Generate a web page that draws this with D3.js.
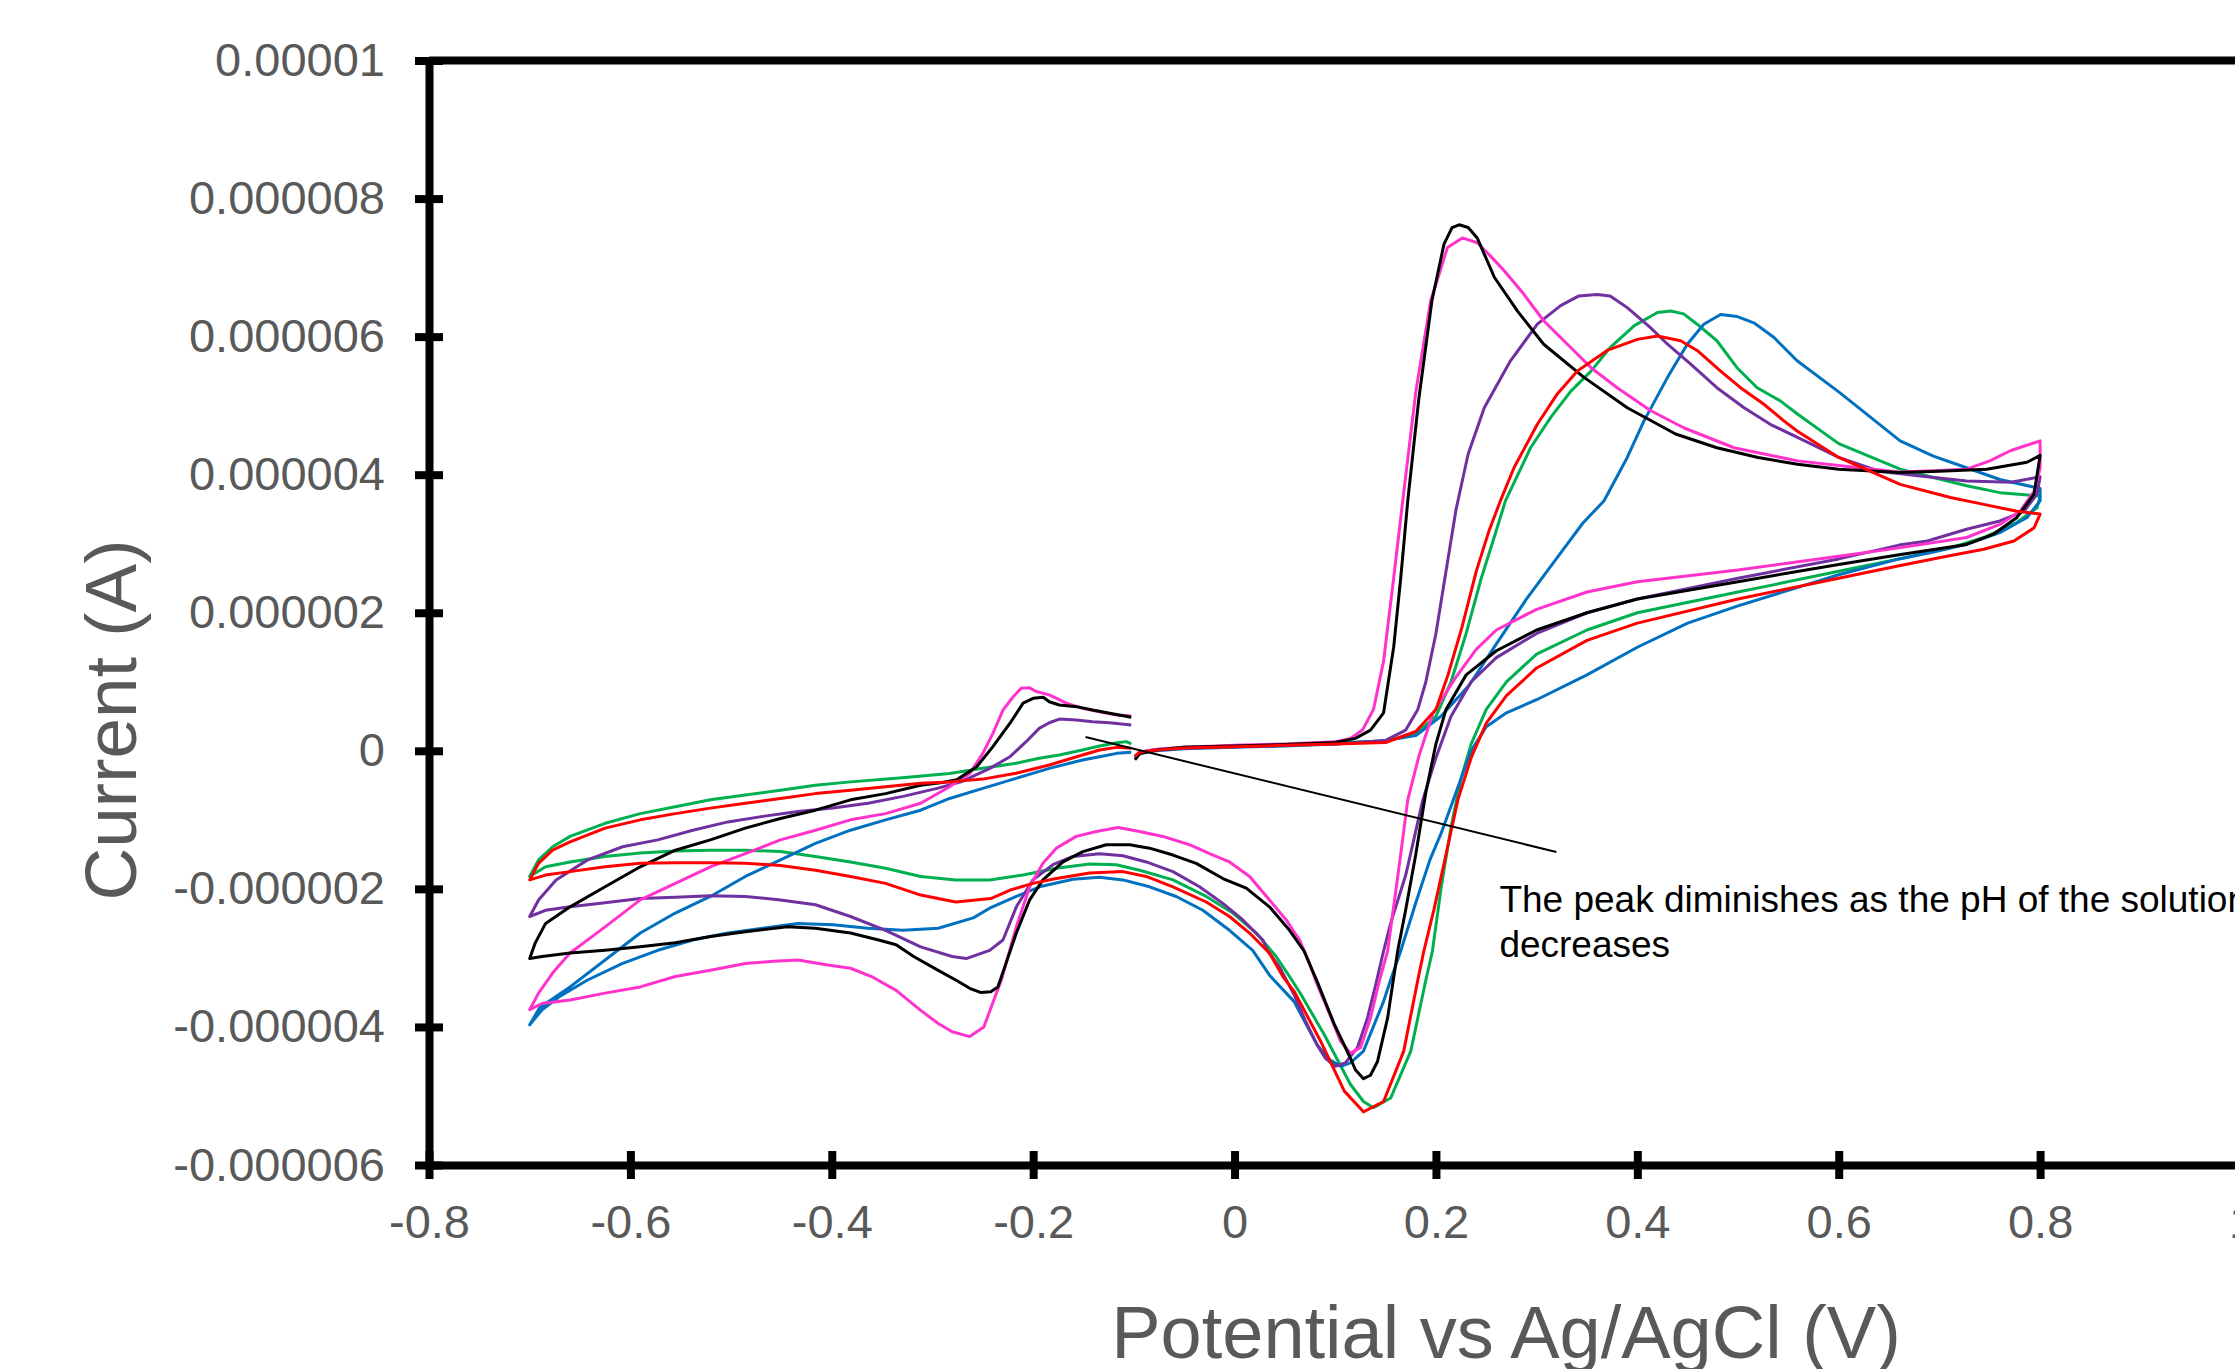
<!DOCTYPE html>
<html>
<head>
<meta charset="utf-8">
<script src="https://cdn.jsdelivr.net/npm/d3@7"></script>
<style>
  html, body { margin: 0; padding: 0; background: #ffffff; }
  svg { display: block; font-family: "Liberation Sans", Arial, Helvetica, sans-serif; }
</style>
</head>
<body>
<svg id="chart" width="2235" height="1369"></svg>
<script>
// Cyclic voltammograms: potential (V vs Ag/AgCl) against current (µA in the arrays, plotted in A).
// Each scan starts near -0.1 V, sweeps up to 0.8 V, back down to -0.7 V and up again to -0.1 V.

const xTicks = [-0.8, -0.6, -0.4, -0.2, 0, 0.2, 0.4, 0.6, 0.8, 1.0];
const xTickLabels = ["-0.8", "-0.6", "-0.4", "-0.2", "0", "0.2", "0.4", "0.6", "0.8", "1"];
const yTicksMicro = [-6, -4, -2, 0, 2, 4, 6, 8, 10];
const yTickLabels = ["-0.000006", "-0.000004", "-0.000002", "0", "0.000002", "0.000004", "0.000006", "0.000008", "0.00001"];

const scanBlack = [
 [-0.099,-0.13],[-0.094,-0.04],[-0.078,0.01],[-0.05,0.05],[0.0,0.07],[0.05,0.09],[0.1,0.12],[0.12,0.18],[0.135,0.3],[0.148,0.55],[0.158,1.5],[0.165,2.5],[0.172,3.62],[0.183,5.1],[0.196,6.52],[0.208,7.34],[0.216,7.58],[0.223,7.62],[0.232,7.58],[0.241,7.43],[0.258,6.86],[0.281,6.37],[0.307,5.89],[0.347,5.41],[0.39,4.97],[0.438,4.59],[0.479,4.39],[0.52,4.25],[0.559,4.15],[0.6,4.08],[0.661,4.03],[0.7,4.05],[0.747,4.08],[0.787,4.18],[0.8,4.28],
 [0.794,3.72],[0.777,3.38],[0.754,3.14],[0.727,2.99],[0.66,2.84],[0.6,2.7],[0.5,2.45],[0.4,2.2],[0.35,2.0],[0.3,1.75],[0.26,1.45],[0.23,1.1],[0.21,0.6],[0.2,0.1],[0.19,-0.6],[0.18,-1.5],[0.17,-2.3],[0.162,-2.9],[0.152,-3.87],[0.142,-4.5],[0.135,-4.7],[0.128,-4.75],[0.12,-4.62],[0.115,-4.45],[0.099,-3.96],[0.082,-3.34],[0.069,-2.9],[0.0546,-2.6],[0.0347,-2.26],[0.0116,-1.99],[-0.0116,-1.85],[-0.0381,-1.63],[-0.0612,-1.51],[-0.0844,-1.41],[-0.1042,-1.36],[-0.1274,-1.36],[-0.1506,-1.46],[-0.1704,-1.61],[-0.1903,-1.87],[-0.2035,-2.16],[-0.2167,-2.64],[-0.2282,-3.13],[-0.2351,-3.42],[-0.2421,-3.49],[-0.2525,-3.5],[-0.263,-3.44],[-0.2769,-3.32],[-0.2943,-3.18],[-0.3187,-2.98],[-0.3361,-2.81],[-0.3535,-2.74],[-0.3814,-2.64],[-0.4162,-2.57],[-0.444,-2.55],[-0.4858,-2.62],[-0.5206,-2.69],[-0.5554,-2.78],[-0.5902,-2.84],[-0.6251,-2.89],[-0.6599,-2.93],[-0.6877,-2.98],[-0.7,-3.01],
 [-0.6947,-2.79],[-0.6842,-2.5],[-0.6599,-2.26],[-0.6251,-1.97],[-0.5902,-1.68],[-0.5554,-1.44],[-0.5206,-1.29],[-0.4858,-1.12],[-0.451,-0.98],[-0.4162,-0.86],[-0.3814,-0.71],[-0.3466,-0.62],[-0.3117,-0.5],[-0.29,-0.46],[-0.276,-0.42],[-0.256,-0.23],[-0.24,0.06],[-0.223,0.4],[-0.21,0.69],[-0.2,0.76],[-0.19,0.775],[-0.184,0.71],[-0.174,0.664],[-0.157,0.64],[-0.141,0.59],[-0.124,0.543],[-0.1026,0.485]
];

const scanMagenta = [
 [-0.099,-0.08],[-0.094,-0.02],[-0.078,0.02],[-0.05,0.05],[0.0,0.08],[0.05,0.1],[0.1,0.13],[0.115,0.18],[0.127,0.3],[0.138,0.6],[0.148,1.3],[0.158,2.5],[0.167,3.62],[0.18,5.2],[0.1948,6.52],[0.2114,7.29],[0.2262,7.43],[0.241,7.36],[0.254,7.17],[0.268,6.95],[0.287,6.62],[0.307,6.23],[0.327,5.94],[0.354,5.55],[0.38,5.26],[0.413,4.93],[0.446,4.68],[0.496,4.39],[0.559,4.2],[0.62,4.1],[0.66,4.04],[0.7,4.06],[0.727,4.08],[0.75,4.2],[0.771,4.35],[0.8,4.49],
 [0.8,4.1],[0.794,3.76],[0.78,3.47],[0.76,3.28],[0.727,3.09],[0.66,2.94],[0.6,2.82],[0.5,2.62],[0.4,2.45],[0.35,2.3],[0.3,2.05],[0.26,1.75],[0.24,1.47],[0.219,1.05],[0.197,0.54],[0.183,-0.08],[0.172,-0.71],[0.165,-1.5],[0.159,-2.15],[0.152,-2.9],[0.144,-3.32],[0.135,-3.87],[0.125,-4.3],[0.115,-4.38],[0.105,-4.2],[0.096,-3.87],[0.082,-3.38],[0.0744,-3.08],[0.0645,-2.74],[0.0513,-2.45],[0.0347,-2.16],[0.015,-1.82],[-0.005,-1.61],[-0.0248,-1.49],[-0.0447,-1.36],[-0.0712,-1.24],[-0.0943,-1.17],[-0.1158,-1.11],[-0.1373,-1.17],[-0.1572,-1.24],[-0.177,-1.41],[-0.1903,-1.63],[-0.2035,-1.97],[-0.2167,-2.55],[-0.2316,-3.32],[-0.249,-4.0],[-0.263,-4.14],[-0.2804,-4.07],[-0.2943,-3.95],[-0.3117,-3.76],[-0.3361,-3.47],[-0.3605,-3.27],[-0.3814,-3.15],[-0.4057,-3.1],[-0.4336,-3.03],[-0.458,-3.05],[-0.4858,-3.08],[-0.5206,-3.18],[-0.5554,-3.27],[-0.5902,-3.42],[-0.6251,-3.51],[-0.6599,-3.61],[-0.6877,-3.66],[-0.7,-3.75],
 [-0.6912,-3.51],[-0.6773,-3.22],[-0.6599,-2.93],[-0.6251,-2.55],[-0.5902,-2.16],[-0.5554,-1.92],[-0.5206,-1.68],[-0.4858,-1.49],[-0.451,-1.29],[-0.4162,-1.15],[-0.3814,-1.0],[-0.3466,-0.91],[-0.3117,-0.76],[-0.283,-0.52],[-0.263,-0.33],[-0.25,-0.037],[-0.24,0.253],[-0.23,0.59],[-0.22,0.78],[-0.212,0.905],[-0.204,0.915],[-0.197,0.86],[-0.184,0.81],[-0.167,0.69],[-0.151,0.615],[-0.134,0.567],[-0.117,0.52],[-0.1026,0.504]
];

const scanPurple = [
 [-0.099,-0.08],[-0.094,-0.02],[-0.078,0.02],[-0.05,0.04],[0.0,0.06],[0.05,0.08],[0.1,0.1],[0.15,0.15],[0.17,0.3],[0.182,0.6],[0.19,1.0],[0.2,1.7],[0.21,2.6],[0.22,3.5],[0.232,4.3],[0.248,4.97],[0.274,5.65],[0.3007,6.18],[0.3238,6.45],[0.342,6.59],[0.36,6.61],[0.373,6.59],[0.39,6.42],[0.413,6.13],[0.43,5.89],[0.453,5.6],[0.479,5.26],[0.506,4.97],[0.532,4.73],[0.559,4.54],[0.6,4.25],[0.64,4.05],[0.681,3.98],[0.727,3.91],[0.771,3.89],[0.8,3.97],
 [0.797,3.72],[0.784,3.47],[0.76,3.33],[0.727,3.21],[0.688,3.04],[0.66,2.98],[0.6,2.78],[0.5,2.5],[0.4,2.2],[0.35,2.0],[0.3,1.7],[0.26,1.35],[0.235,1.0],[0.215,0.5],[0.2,-0.1],[0.187,-0.71],[0.17,-1.8],[0.155,-2.5],[0.148,-2.9],[0.14,-3.4],[0.132,-3.87],[0.122,-4.3],[0.11,-4.52],[0.1,-4.57],[0.09,-4.45],[0.082,-4.26],[0.07,-3.9],[0.059,-3.53],[0.0446,-3.13],[0.033,-2.9],[0.0281,-2.74],[0.0083,-2.45],[-0.0116,-2.21],[-0.0348,-1.97],[-0.0612,-1.75],[-0.0877,-1.61],[-0.1109,-1.52],[-0.134,-1.49],[-0.1605,-1.53],[-0.1804,-1.65],[-0.2002,-1.87],[-0.2167,-2.26],[-0.23,-2.74],[-0.2432,-2.89],[-0.2665,-3.01],[-0.2804,-2.98],[-0.3117,-2.84],[-0.3466,-2.6],[-0.3814,-2.4],[-0.4162,-2.23],[-0.451,-2.16],[-0.4858,-2.11],[-0.5206,-2.1],[-0.5554,-2.12],[-0.5902,-2.14],[-0.6251,-2.2],[-0.6599,-2.26],[-0.6842,-2.31],[-0.7,-2.4],
 [-0.6912,-2.16],[-0.6738,-1.87],[-0.6425,-1.58],[-0.6077,-1.39],[-0.5728,-1.29],[-0.538,-1.15],[-0.5032,-1.03],[-0.4684,-0.95],[-0.4336,-0.88],[-0.3988,-0.83],[-0.364,-0.76],[-0.3292,-0.66],[-0.2943,-0.54],[-0.27,-0.44],[-0.243,-0.254],[-0.223,-0.085],[-0.207,0.132],[-0.194,0.325],[-0.184,0.407],[-0.174,0.46],[-0.157,0.446],[-0.141,0.422],[-0.124,0.407],[-0.1026,0.374]
];

const scanGreen = [
 [-0.099,-0.08],[-0.094,-0.02],[-0.078,0.02],[-0.05,0.05],[0.0,0.07],[0.05,0.09],[0.1,0.12],[0.15,0.14],[0.18,0.25],[0.2,0.5],[0.215,1.0],[0.23,1.7],[0.245,2.5],[0.258,3.1],[0.269,3.62],[0.294,4.39],[0.314,4.83],[0.334,5.21],[0.354,5.5],[0.373,5.84],[0.397,6.16],[0.42,6.35],[0.433,6.37],[0.446,6.33],[0.4594,6.18],[0.479,5.94],[0.499,5.55],[0.519,5.26],[0.542,5.07],[0.559,4.88],[0.6,4.45],[0.661,4.08],[0.694,3.96],[0.727,3.84],[0.76,3.74],[0.8,3.69],
 [0.797,3.52],[0.777,3.31],[0.744,3.09],[0.711,2.94],[0.66,2.78],[0.6,2.6],[0.5,2.3],[0.4,2.0],[0.35,1.75],[0.3,1.4],[0.27,1.0],[0.25,0.6],[0.235,0.1],[0.225,-0.4],[0.215,-1.1],[0.205,-2.0],[0.1965,-2.9],[0.19,-3.32],[0.175,-4.35],[0.155,-5.03],[0.138,-5.17],[0.128,-5.08],[0.115,-4.83],[0.089,-4.11],[0.066,-3.53],[0.0546,-3.27],[0.0413,-2.98],[0.0215,-2.64],[-0.0017,-2.35],[-0.0281,-2.11],[-0.0612,-1.87],[-0.0943,-1.73],[-0.1175,-1.65],[-0.1439,-1.64],[-0.177,-1.7],[-0.2101,-1.8],[-0.2432,-1.87],[-0.2769,-1.87],[-0.3117,-1.82],[-0.3466,-1.7],[-0.3814,-1.61],[-0.4162,-1.53],[-0.451,-1.46],[-0.4858,-1.44],[-0.5206,-1.44],[-0.5554,-1.45],[-0.5902,-1.48],[-0.6251,-1.53],[-0.6599,-1.61],[-0.6842,-1.68],[-0.7,-1.82],
 [-0.6912,-1.58],[-0.6773,-1.39],[-0.6599,-1.24],[-0.6251,-1.05],[-0.5902,-0.91],[-0.5554,-0.81],[-0.5206,-0.71],[-0.4858,-0.64],[-0.451,-0.57],[-0.4162,-0.5],[-0.3814,-0.45],[-0.33,-0.39],[-0.283,-0.33],[-0.25,-0.254],[-0.217,-0.18],[-0.194,-0.109],[-0.174,-0.06],[-0.151,0.012],[-0.134,0.07],[-0.117,0.118],[-0.1075,0.133],[-0.1026,0.1]
];

const scanRed = [
 [-0.099,-0.08],[-0.094,-0.02],[-0.078,0.01],[-0.05,0.04],[0.0,0.06],[0.05,0.08],[0.1,0.1],[0.15,0.12],[0.18,0.28],[0.2,0.6],[0.212,1.1],[0.226,1.8],[0.24,2.6],[0.253,3.2],[0.264,3.62],[0.2775,4.1],[0.3007,4.73],[0.3205,5.17],[0.3403,5.5],[0.37,5.8],[0.4,5.96],[0.42,6.01],[0.443,5.94],[0.4594,5.8],[0.4827,5.5],[0.5025,5.26],[0.5257,5.02],[0.5455,4.78],[0.559,4.63],[0.6,4.25],[0.661,3.86],[0.711,3.67],[0.744,3.57],[0.777,3.47],[0.8,3.43],
 [0.794,3.23],[0.774,3.04],[0.744,2.92],[0.701,2.8],[0.66,2.68],[0.6,2.5],[0.5,2.2],[0.4,1.85],[0.35,1.6],[0.3,1.2],[0.27,0.8],[0.25,0.4],[0.235,-0.1],[0.222,-0.7],[0.21,-1.5],[0.198,-2.3],[0.188,-2.9],[0.182,-3.32],[0.168,-4.35],[0.148,-5.08],[0.128,-5.23],[0.109,-4.93],[0.0856,-4.21],[0.059,-3.48],[0.048,-3.27],[0.0347,-2.93],[0.0149,-2.64],[-0.005,-2.4],[-0.0281,-2.19],[-0.0612,-1.97],[-0.0877,-1.82],[-0.1109,-1.75],[-0.1439,-1.77],[-0.177,-1.85],[-0.2002,-1.92],[-0.2234,-2.02],[-0.2421,-2.14],[-0.2769,-2.19],[-0.3117,-2.09],[-0.3466,-1.92],[-0.3814,-1.82],[-0.4162,-1.73],[-0.451,-1.66],[-0.4858,-1.63],[-0.5206,-1.62],[-0.5554,-1.62],[-0.5902,-1.63],[-0.6251,-1.68],[-0.6599,-1.75],[-0.6842,-1.8],[-0.7,-1.87],
 [-0.6912,-1.63],[-0.6773,-1.44],[-0.6599,-1.32],[-0.6251,-1.12],[-0.5902,-1.0],[-0.5554,-0.91],[-0.5206,-0.83],[-0.4858,-0.76],[-0.451,-0.69],[-0.4162,-0.62],[-0.3814,-0.57],[-0.3466,-0.52],[-0.3117,-0.47],[-0.283,-0.45],[-0.25,-0.41],[-0.217,-0.326],[-0.184,-0.206],[-0.151,-0.06],[-0.134,0.012],[-0.117,0.05],[-0.1026,0.036]
];

const scanBlue = [
 [-0.099,-0.1],[-0.094,-0.04],[-0.078,0.0],[-0.05,0.03],[0.0,0.05],[0.05,0.07],[0.1,0.1],[0.15,0.15],[0.18,0.22],[0.205,0.5],[0.233,0.95],[0.26,1.55],[0.29,2.2],[0.318,2.75],[0.346,3.3],[0.3668,3.62],[0.39,4.25],[0.4066,4.78],[0.43,5.41],[0.4496,5.89],[0.466,6.18],[0.4827,6.32],[0.4992,6.29],[0.5157,6.2],[0.5355,5.99],[0.5587,5.65],[0.6,5.2],[0.661,4.49],[0.694,4.27],[0.727,4.1],[0.76,3.93],[0.8,3.8],
 [0.8,3.62],[0.787,3.38],[0.76,3.16],[0.727,2.99],[0.694,2.88],[0.66,2.78],[0.6,2.55],[0.5,2.1],[0.45,1.85],[0.4,1.5],[0.35,1.1],[0.3,0.74],[0.27,0.55],[0.25,0.35],[0.235,0.0],[0.22,-0.6],[0.205,-1.2],[0.194,-1.58],[0.18,-2.2],[0.165,-2.9],[0.155,-3.32],[0.148,-3.63],[0.128,-4.35],[0.115,-4.52],[0.1055,-4.57],[0.095,-4.48],[0.082,-4.26],[0.059,-3.63],[0.0347,-3.25],[0.018,-2.89],[-0.005,-2.6],[-0.0315,-2.31],[-0.0579,-2.11],[-0.0844,-1.97],[-0.1109,-1.87],[-0.134,-1.83],[-0.1605,-1.86],[-0.1936,-1.97],[-0.2167,-2.11],[-0.2432,-2.28],[-0.2595,-2.42],[-0.2943,-2.57],[-0.3292,-2.6],[-0.364,-2.57],[-0.3988,-2.52],[-0.4336,-2.5],[-0.4684,-2.57],[-0.5032,-2.64],[-0.538,-2.74],[-0.5728,-2.89],[-0.6077,-3.08],[-0.6425,-3.32],[-0.6703,-3.56],[-0.6877,-3.75],[-0.7,-3.97],
 [-0.69,-3.72],[-0.6599,-3.42],[-0.6251,-3.03],[-0.5902,-2.64],[-0.5554,-2.35],[-0.5206,-2.11],[-0.4858,-1.82],[-0.451,-1.58],[-0.4162,-1.34],[-0.3814,-1.15],[-0.3466,-1.0],[-0.3117,-0.86],[-0.283,-0.69],[-0.25,-0.544],[-0.217,-0.4],[-0.184,-0.254],[-0.151,-0.133],[-0.134,-0.085],[-0.117,-0.037],[-0.1026,-0.022]
];

// Drawing order and line colours
const scans = [
  { data: scanGreen,   color: "#00B050" },
  { data: scanBlue,    color: "#0070C0" },
  { data: scanPurple,  color: "#7030A0" },
  { data: scanMagenta, color: "#FF33CC" },
  { data: scanBlack,   color: "#000000" },
  { data: scanRed,     color: "#FF0000" }
];

// Leader line and note, in data units (V, µA)
const noteLine = [[-0.148, 0.2], [0.3196, -1.466]];
const noteLines = ["The peak diminishes as the pH of the solution", "decreases"];
const noteAnchor = [0.263, -2.335];

const svg = d3.select("#chart");
const W = 2235, H = 1369;

const x = d3.scaleLinear().domain([-0.8, 1.0]).range([429, 2241.5]);
const y = d3.scaleLinear().domain([-6e-6, 1e-5]).range([1165, 60.5]);

const axisColor = "#000000";
const labelColor = "#595959";

// Top frame line
svg.append("line")
  .attr("x1", x(-0.8)).attr("x2", W + 10)
  .attr("y1", y(1e-5)).attr("y2", y(1e-5))
  .attr("stroke", axisColor).attr("stroke-width", 8);

// Curves
const line = d3.line()
  .x(d => x(d[0]))
  .y(d => y(d[1] * 1e-6));

svg.append("g").selectAll("path")
  .data(scans)
  .join("path")
  .attr("d", d => line(d.data))
  .attr("fill", "none")
  .attr("stroke", d => d.color)
  .attr("stroke-width", 3)
  .attr("stroke-linejoin", "round");

// Y axis
const gy = svg.append("g")
  .attr("transform", `translate(${x(-0.8)},0)`)
  .call(d3.axisLeft(y)
    .tickValues(yTicksMicro.map(v => v * 1e-6))
    .tickFormat((d, i) => yTickLabels[i])
    .tickSizeInner(14).tickSizeOuter(0));
gy.select(".domain").attr("stroke", axisColor).attr("stroke-width", 8);
gy.selectAll(".tick line").attr("x1", -14).attr("x2", 14)
  .attr("stroke", axisColor).attr("stroke-width", 8);
gy.selectAll(".tick text")
  .attr("x", -44)
  .attr("fill", labelColor)
  .style("font-size", "47px")
  .style("font-family", '"Liberation Sans", Arial, sans-serif');

// X axis
const gx = svg.append("g")
  .attr("transform", `translate(0,${y(-6e-6)})`)
  .call(d3.axisBottom(x)
    .tickValues(xTicks)
    .tickFormat((d, i) => xTickLabels[i])
    .tickSizeInner(14).tickSizeOuter(0));
gx.select(".domain").attr("stroke", axisColor).attr("stroke-width", 8)
  .attr("stroke-linecap", "square");
gx.selectAll(".tick line").attr("y1", -14).attr("y2", 14)
  .attr("stroke", axisColor).attr("stroke-width", 8);
gx.selectAll(".tick text")
  .attr("y", 40)
  .attr("fill", labelColor)
  .style("font-size", "47px")
  .style("font-family", '"Liberation Sans", Arial, sans-serif');

// Axis titles
svg.append("text")
  .attr("transform", `translate(136,720) rotate(-90)`)
  .attr("text-anchor", "middle")
  .attr("fill", labelColor)
  .style("font-size", "73px")
  .text("Current (A)");

svg.append("text")
  .attr("x", 1506).attr("y", 1358)
  .attr("text-anchor", "middle")
  .attr("fill", labelColor)
  .style("font-size", "74px")
  .text("Potential vs Ag/AgCl (V)");

// Annotation
svg.append("line")
  .attr("x1", x(noteLine[0][0])).attr("y1", y(noteLine[0][1] * 1e-6))
  .attr("x2", x(noteLine[1][0])).attr("y2", y(noteLine[1][1] * 1e-6))
  .attr("stroke", "#000").attr("stroke-width", 2);

const note = svg.append("text")
  .attr("x", x(noteAnchor[0])).attr("y", y(noteAnchor[1] * 1e-6))
  .attr("fill", "#000")
  .style("font-size", "37px");
note.selectAll("tspan").data(noteLines).join("tspan")
  .attr("x", x(noteAnchor[0]))
  .attr("dy", (d, i) => i === 0 ? 0 : 45)
  .text(d => d);
</script>
</body>
</html>
